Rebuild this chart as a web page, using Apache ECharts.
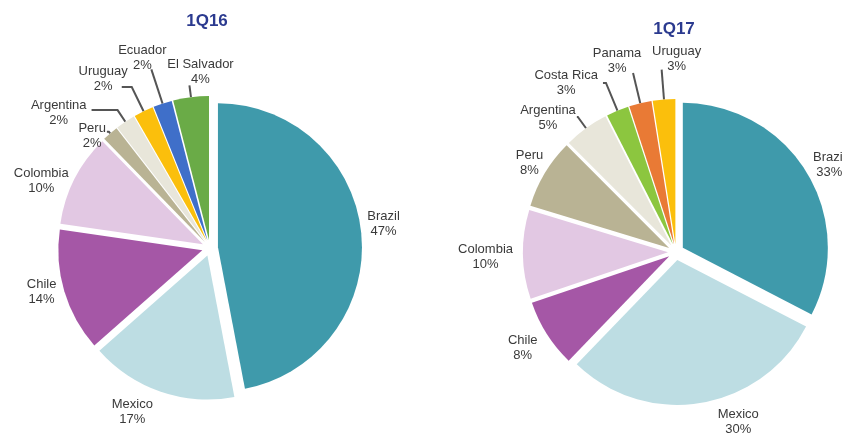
<!DOCTYPE html>
<html>
<head>
<meta charset="utf-8">
<script src="https://cdn.jsdelivr.net/npm/echarts@6/dist/echarts.min.js"></script>
<style>html,body{margin:0;padding:0;background:#fff}#c{width:843px;height:434px}</style>
</head>
<body>
<div id="c"></div>
<script>
// ---- data (shares in %; labels show rounded %) ----
const titles = ['1Q16', '1Q17'];
const countries16 = ['Brazil', 'Mexico', 'Chile', 'Colombia', 'Peru', 'Argentina', 'Uruguay', 'Ecuador', 'El Salvador'];
const values16 = [47, 16.5, 13.8, 10.4, 1.8, 2.2, 2.2, 2.1, 4];
const labels16 = ['47%', '17%', '14%', '10%', '2%', '2%', '2%', '2%', '4%'];
const countries17 = ['Brazil', 'Mexico', 'Chile', 'Colombia', 'Peru', 'Argentina', 'Costa Rica', 'Panama', 'Uruguay'];
const values17 = [32.6, 29.6, 7.6, 9.9, 7.8, 5.0, 2.5, 2.5, 2.5];
const labels17 = ['33%', '30%', '8%', '10%', '8%', '5%', '3%', '3%', '3%'];

// ---- styles ----
const colorMap = {
  'Brazil': '#3f9aab', 'Mexico': '#bddde3', 'Chile': '#a557a6', 'Colombia': '#e2c8e3',
  'Peru': '#b9b394', 'Argentina': '#e8e6da', 'Uruguay': '#fbbf0c', 'Ecuador': '#3f6fc9',
  'El Salvador': '#6aab47', 'Costa Rica': '#8cc63f', 'Panama': '#e97a35'
};
// per-slice label styling: [lineLength, lineLength2, showLine, dx, dy, labelAboveLine]
const labelStyle16 = [
  [1, 0, false, 0, -10, false],
  [21, 0, false, 4, 0, false],
  [3, 0, false, 0, 0, false],
  [1, 0, false, 0, 2, false],
  [2, 2, true, 4, 4, false],
  [14, 26, true, 0, 3, false],
  [27, 10, true, 11, -8, false],
  [36, 0, true, -4, 4, true],
  [12, 0, true, 16, 2, true]
];
const labelStyle17 = [
  [5, 0, false, -3, -5, false],
  [17, 0, false, 9, 2, false],
  [11, 0, false, 5, 8, false],
  [5, 0, false, 0, 2, false],
  [3, 0, false, 6, -9, false],
  [14, 1, true, 4, 1, false],
  [30, 3, true, 0, 0, false],
  [31, 0, true, -11, 3, true],
  [30, 0, true, 20, 4, true]
];

function build(names, vals, labs, styles) {
  return names.map((n, i) => {
    const s = styles[i];
    return {
      name: n, value: vals[i], selected: true,
      itemStyle: { color: colorMap[n] },
      label: { formatter: '{a|' + n + '}\n{a|' + labs[i] + '}' },
      labelLine: { show: s[2], length: s[0], length2: s[1] }
    };
  });
}

function layoutFor(styles) {
  return function (p) {
    const s = styles[p.dataIndex];
    const o = { dx: s[3], dy: s[4] };
    if (s[5]) { o.align = 'center'; o.verticalAlign = 'bottom'; }
    return o;
  };
}

const labelCfg = {
  show: true, position: 'outside', overflow: 'none',
  rich: { a: { fontFamily: 'Liberation Sans, Arial', fontSize: 13, color: '#3a3a3a', align: 'center', lineHeight: 15 } }
};
const titleStyle = { fontFamily: 'Liberation Sans, Arial', fontSize: 17, fontWeight: 'bold', color: '#2b3a8f' };

const chart = echarts.init(document.getElementById('c'));
chart.setOption({
  animation: false,
  title: [
    { text: titles[0], left: 202, top: 8, textAlign: 'center', textStyle: titleStyle },
    { text: titles[1], left: 669, top: 16, textAlign: 'center', textStyle: titleStyle }
  ],
  series: [
    {
      type: 'pie', center: [210, 248], radius: 144, startAngle: 90, clockwise: true,
      selectedMode: 'multiple', selectedOffset: 8, avoidLabelOverlap: false,
      label: labelCfg,
      labelLine: { smooth: false, lineStyle: { color: '#555', width: 2 } },
      labelLayout: layoutFor(labelStyle16),
      emphasis: { disabled: true },
      data: build(countries16, values16, labels16, labelStyle16)
    },
    {
      type: 'pie', center: [676, 252], radius: 145, startAngle: 90, clockwise: true,
      selectedMode: 'multiple', selectedOffset: 8, avoidLabelOverlap: false,
      label: labelCfg,
      labelLine: { smooth: false, lineStyle: { color: '#555', width: 2 } },
      labelLayout: layoutFor(labelStyle17),
      emphasis: { disabled: true },
      data: build(countries17, values17, labels17, labelStyle17)
    }
  ]
});
</script>
</body>
</html>
